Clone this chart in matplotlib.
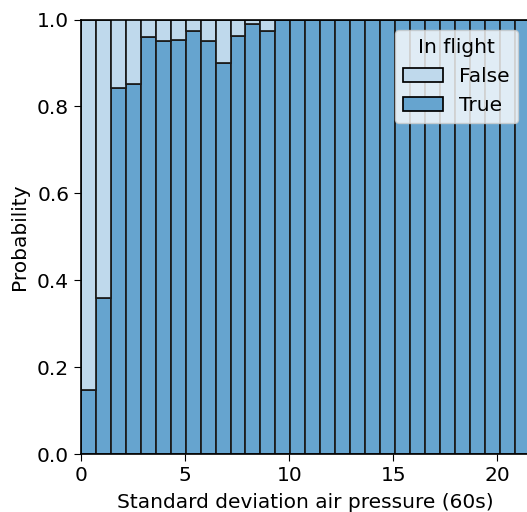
import numpy as np
import matplotlib
matplotlib.use("Agg")
import matplotlib.pyplot as plt
from matplotlib.patches import Patch

# share of "True" (in flight) per bin
true_frac = [0.147, 0.359, 0.843, 0.851, 0.960, 0.950, 0.953, 0.973, 0.950, 0.900,
             0.961, 0.990, 0.974] + [1.0] * 17
x_max = 21.54
n_bins = len(true_frac)
labels = ["False", "True"]
legend_title = "In flight"

col_false = "#bfd9ec"
col_true = "#66a4cf"

edges = np.linspace(0, x_max, n_bins + 1)
width = edges[1] - edges[0]
tf = np.array(true_frac)

fs = 14.5
fig = plt.figure(figsize=(5.27, 5.12), dpi=100)
ax = fig.add_axes([81 / 527, (512 - 454) / 512, 448.5 / 527, (454 - 19.5) / 512])

ax.bar(edges[:-1], tf, width=width, align="edge", color=col_true,
       edgecolor="#1a1a1a", linewidth=1.25)
ax.bar(edges[:-1], 1 - tf, bottom=tf, width=width, align="edge", color=col_false,
       edgecolor="#1a1a1a", linewidth=1.25)

ax.set_xlim(0, x_max)
ax.set_ylim(0, 1)
ax.set_xticks([0, 5, 10, 15, 20])
ax.set_yticks([0, 0.2, 0.4, 0.6, 0.8, 1.0])
ax.tick_params(labelsize=fs, length=5)
ax.set_xlabel("Standard deviation air pressure (60s)", fontsize=fs, labelpad=6)
ax.set_ylabel("Probability", fontsize=fs, labelpad=6)
for s in ax.spines.values():
    s.set_linewidth(1.2)

handles = [Patch(facecolor=col_false, edgecolor="black", linewidth=1.25),
           Patch(facecolor=col_true, edgecolor="black", linewidth=1.25)]
leg = ax.legend(handles, labels, title=legend_title, loc="upper right",
                bbox_to_anchor=(0.997, 1.0), fontsize=fs, title_fontsize=fs,
                handlelength=2.0)

fig.savefig("out.png", dpi=100)
